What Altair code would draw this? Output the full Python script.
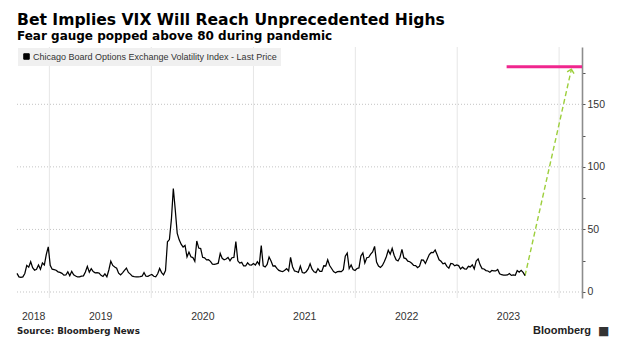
import altair as alt
import pandas as pd

TITLE = "Bet Implies VIX Will Reach Unprecedented Highs"
SUBTITLE = "Fear gauge popped above 80 during pandemic"
SERIES = "Chicago Board Options Exchange Volatility Index - Last Price"
SOURCE = "Source: Bloomberg News"
BRAND = "Bloomberg"

# Weekly VIX readings (first Friday of each block, then every 7 days)
first_friday = {
    2018: "2018-09-07",
    2019: "2019-01-04",
    2020: "2020-01-03",
    2021: "2021-01-01",
    2022: "2022-01-07",
    2023: "2023-01-06",
}
vix_2018 = [14.9, 12.1, 11.7, 12.1, 14.8, 21.3, 19.9, 24.2, 19.5, 17.4, 18.1, 21.5,
            18.1, 23.2, 21.6, 30.1, 36.1]
vix_2019 = [21.4, 18.2, 17.8, 17.4, 16.1, 15.7, 14.9, 13.5, 13.6, 16.1, 12.9, 16.5,
            13.7, 12.8, 12.0, 12.1, 12.7, 12.9, 16.0, 20.5, 15.9, 18.7, 16.3, 15.3,
            15.4, 15.1, 13.3, 12.4, 14.5, 12.2, 17.6, 24.6, 21.2, 19.9, 19.0, 15.0,
            13.7, 15.3, 17.2, 19.1, 15.6, 14.3, 12.7, 12.3, 12.1, 12.05, 12.3, 12.6,
            15.5, 12.6, 12.5, 13.4]
vix_2020 = [14.0, 12.6, 12.1, 14.6, 18.8, 15.5, 13.7, 17.1, 40.1, 41.9, 57.8, 82.7,
            65.5, 46.8, 41.7, 38.2, 35.9, 37.2, 28.0, 31.9, 28.2, 27.5, 24.5, 40.8,
            35.1, 34.7, 27.7, 27.3, 25.7, 25.8, 24.5, 22.2, 22.1, 22.5, 23.0, 30.8,
            26.9, 25.8, 26.4, 27.6, 25.0, 27.4, 27.6, 40.3, 24.9, 23.1, 23.7, 20.8,
            20.8, 23.3, 21.6, 21.5]
vix_2021 = [22.75, 21.6, 24.3, 21.9, 37.2, 20.9, 19.97, 22.05, 28.0, 24.7, 20.7, 20.95,
            18.9, 17.3, 16.7, 16.25, 17.3, 18.6, 16.7, 27.6, 20.2, 16.8, 16.4, 15.7,
            20.7, 15.6, 15.1, 16.2, 18.45, 22.5, 18.2, 16.15, 15.45, 18.6, 16.4, 16.4,
            20.95, 20.8, 25.7, 21.15, 18.8, 16.3, 15.4, 16.3, 16.5, 16.3, 17.9, 28.6,
            31.1, 18.7, 21.6, 17.96, 17.2]
vix_2022 = [18.8, 19.2, 28.85, 31.2, 23.2, 27.4, 27.75, 30.3, 32.0, 36.45, 23.9, 20.8,
            19.6, 21.2, 24.4, 28.2, 33.4, 30.2, 34.8, 29.4, 25.7, 24.8, 27.75, 34.0,
            27.2, 26.7, 24.6, 24.2, 23.0, 21.3, 21.15, 19.5, 20.6, 25.6, 25.5, 22.8,
            26.3, 29.9, 31.6, 31.4, 33.6, 29.7, 25.75, 24.55, 22.5, 23.1, 20.5, 19.1,
            22.8, 22.6, 20.9, 21.7]
vix_2023 = [21.1, 18.35, 19.85, 18.5, 18.3, 20.5, 20.0, 21.7, 18.5, 24.8, 26.5, 21.7,
            18.7, 18.4, 17.1, 16.8, 15.8, 17.2, 16.9, 16.8, 17.95, 14.6, 13.8, 13.5,
            13.4, 13.6, 14.8, 13.3, 13.6, 13.3, 17.1, 15.85, 17.3, 15.7, 13.1]
vix_by_year = {2018: vix_2018, 2019: vix_2019, 2020: vix_2020,
               2021: vix_2021, 2022: vix_2022, 2023: vix_2023}

# Implied target (pink) and projection arrow (green)
target_level = 180
target_start = "2023-06-27"
target_end = "2024-03-23"
arrow_dates = ["2023-09-01", "2024-02-14"]
arrow_values = [13.1, 178]

# Axis furniture
year_lines = ["2019-01-01", "2020-01-01", "2021-01-01", "2022-01-01", "2023-01-01", "2024-01-01"]
y_grid = [0, 50, 100, 150]
y_ticks = [0, 25, 50, 75, 100, 125, 150, 175]
label_dates = [(2018, 11, 4), (2019, 7, 2), (2020, 7, 2), (2021, 7, 2), (2022, 7, 2), (2023, 7, 2)]

dates, values = [], []
for yr, vals in vix_by_year.items():
    ds = pd.date_range(first_friday[yr], periods=len(vals), freq="7D")
    dates += [d.strftime("%Y-%m-%d") for d in ds]
    values += vals
df = pd.DataFrame({"date": dates, "vix": values, "series": SERIES})

x_scale = alt.Scale(type="utc", domain=[alt.DateTime(year=2018, month=9, date=7, utc=True),
                                        alt.DateTime(year=2024, month=3, date=23, utc=True)])
y_scale = alt.Scale(domain=[-4.8, 195.8], nice=False, zero=False)

x_axis = alt.Axis(values=[alt.DateTime(year=y, month=m, date=d, utc=True) for y, m, d in label_dates],
                  format="%Y", ticks=False, tickSize=0, domain=False, grid=False, labelPadding=13,
                  labelFontSize=10.5, labelFont="Liberation Sans", labelColor="#333333",
                  title=None, labelFlush=False, labelOverlap=False)
y_axis = alt.Axis(orient="right", values=y_ticks, labelExpr="datum.value % 50 == 0 ? datum.label : ''",
                  grid=False, domainColor="#8c8c8c", domainWidth=1.6, tickColor="#555555",
                  tickSize=3, tickWidth=1, labelPadding=2, labelFontSize=10.5,
                  labelFont="Liberation Sans", labelColor="#333333", title=None, labelFlush=False)

X = lambda f: alt.X(f, scale=x_scale, axis=x_axis)
Y = lambda f: alt.Y(f, scale=y_scale, axis=y_axis)

vgrid = alt.Chart(pd.DataFrame({"d": year_lines})).mark_rule(color="#e6e6e6", strokeWidth=1).encode(
    x=X("d:T"))
hgrid = alt.Chart(pd.DataFrame({"v": y_grid})).mark_rule(
    color="#c4c4c4", strokeDash=[1, 2], strokeWidth=1).encode(y=Y("v:Q"))
target = alt.Chart(pd.DataFrame({"start": [target_start], "end": [target_end], "level": [target_level]})
                   ).mark_rule(color="#f0268e", strokeWidth=3).encode(
    x=X("start:T"), x2="end:T", y=Y("level:Q"))
arrow_df = pd.DataFrame({"date": arrow_dates, "v": arrow_values})
arrow = alt.Chart(arrow_df).mark_line(color="#9dcf3c", strokeDash=[5, 3], strokeWidth=1.4).encode(
    x=X("date:T"), y=Y("v:Q"))
head = alt.Chart(arrow_df.tail(1)).mark_point(
    shape="M -1 1 L 0 0 L 1 1", angle=13, size=50, filled=False, color="#9dcf3c",
    strokeWidth=1.4, opacity=1).encode(x=X("date:T"), y=Y("v:Q"))
line = alt.Chart(df).mark_line(strokeWidth=1.25).encode(
    x=X("date:T"), y=Y("vix:Q"),
    color=alt.Color("series:N", scale=alt.Scale(range=["#000000"]),
                    legend=alt.Legend(title=None, orient="none", legendX=1, legendY=1,
                                      fillColor="#f0f0f0", padding=4, symbolType="square",
                                      symbolSize=30, symbolFillColor="#000000",
                                      symbolStrokeColor="#000000", symbolStrokeWidth=1,
                                      labelFont="Liberation Sans", labelFontSize=9,
                                      labelColor="#333333", labelOffset=2, labelLimit=500)))


def txt(text, x, y, size, font, weight="bold", color="#000000", align="left"):
    return alt.Chart(pd.DataFrame({"t": [text]})).mark_text(
        align=align, baseline="alphabetic", font=font, fontSize=size, fontWeight=weight,
        color=color).encode(x=alt.value(x), y=alt.value(y), text="t:N")


title = txt(TITLE, 0, -22, 15.6, "DejaVu Sans")
subtitle = txt(SUBTITLE, 0, -7.5, 12, "DejaVu Sans")
source = txt(SOURCE, 0, 287, 8.7, "DejaVu Sans", color="#222222")
brand = txt(BRAND, 516, 287, 11, "Liberation Sans", color="#222222")
logo = txt("■", 581, 288, 12, "DejaVu Sans", color="#333333")

chart = alt.layer(vgrid, hgrid, target, arrow, head, line, title, subtitle, source, brand, logo
                  ).properties(
    width=565, height=251,
    autosize=alt.AutoSizeParams(type="none"),
    padding={"left": 17, "top": 47, "right": 42, "bottom": 55},
    background="white",
).configure_view(stroke=None)

chart.save("out.html", embed_options={"renderer": "svg", "actions": False})
